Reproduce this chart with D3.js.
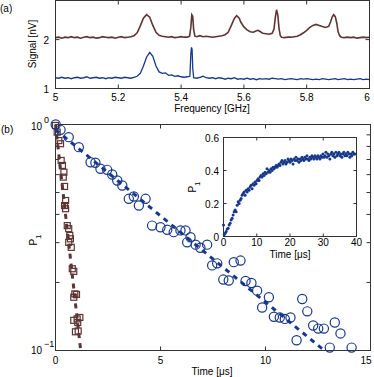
<!DOCTYPE html>
<html>
<head>
<meta charset="utf-8">
<script src="https://cdn.jsdelivr.net/npm/d3@7"></script>
<style>
body{margin:0;background:#fff;}
svg{display:block;font-family:"Liberation Sans",Arial,sans-serif;font-size:10px;}
</style>
</head>
<body>
<svg id="chart" width="374" height="377"></svg>
<script>
// ---- data (a): spectra, [frequency GHz, signal nV]
var brownTrace = [
 [5.00,2.04],[5.01,2.05],[5.02,2.03],[5.03,2.05],[5.04,2.04],[5.05,2.06],[5.06,2.04],[5.07,2.05],[5.08,2.03],[5.09,2.05],
 [5.10,2.06],[5.11,2.04],[5.12,2.05],[5.13,2.03],[5.14,2.04],[5.15,2.06],[5.16,2.05],[5.17,2.04],[5.18,2.05],[5.19,2.03],
 [5.20,2.05],[5.21,2.06],[5.22,2.04],[5.23,2.05],[5.24,2.06],[5.25,2.08],[5.26,2.14],[5.27,2.28],[5.28,2.44],[5.29,2.51],
 [5.30,2.46],[5.31,2.29],[5.32,2.15],[5.33,2.09],[5.34,2.07],[5.35,2.06],[5.36,2.05],[5.37,2.06],[5.38,2.04],[5.39,2.05],
 [5.40,2.06],[5.41,2.05],[5.42,2.05],[5.427,2.07],[5.431,2.25],[5.434,2.51],[5.437,2.48],[5.440,2.20],[5.444,2.07],[5.45,2.06],
 [5.46,2.08],[5.47,2.06],[5.48,2.07],[5.49,2.06],[5.50,2.05],[5.51,2.06],[5.52,2.07],[5.53,2.08],[5.54,2.10],[5.55,2.15],
 [5.56,2.29],[5.57,2.44],[5.577,2.49],[5.585,2.44],[5.59,2.36],[5.60,2.26],[5.61,2.20],[5.62,2.16],[5.63,2.15],[5.64,2.18],
 [5.645,2.19],[5.65,2.17],[5.66,2.13],[5.67,2.12],[5.68,2.11],[5.69,2.13],[5.696,2.22],[5.700,2.45],[5.704,2.61],[5.708,2.50],
 [5.712,2.22],[5.716,2.08],[5.72,2.05],[5.73,2.04],[5.74,2.05],[5.75,2.05],[5.76,2.06],[5.77,2.07],[5.78,2.10],[5.79,2.14],
 [5.80,2.19],[5.81,2.25],[5.82,2.29],[5.83,2.31],[5.84,2.29],[5.85,2.27],[5.86,2.25],[5.87,2.27],[5.876,2.36],[5.881,2.46],
 [5.886,2.51],[5.891,2.47],[5.896,2.33],[5.90,2.16],[5.905,2.08],[5.91,2.05],[5.92,2.04],[5.93,2.05],[5.94,2.04],[5.95,2.05],
 [5.96,2.03],[5.97,2.04],[5.98,2.05],[5.99,2.04],[6.00,2.05]
];
var blueTrace = [
 [5.00,1.22],[5.01,1.21],[5.02,1.23],[5.03,1.21],[5.04,1.22],[5.05,1.20],[5.06,1.22],[5.07,1.23],[5.08,1.21],[5.09,1.22],
 [5.10,1.24],[5.11,1.21],[5.12,1.22],[5.13,1.23],[5.14,1.21],[5.15,1.22],[5.16,1.20],[5.17,1.22],[5.18,1.21],[5.19,1.23],
 [5.20,1.22],[5.21,1.21],[5.22,1.23],[5.23,1.22],[5.24,1.21],[5.25,1.23],[5.26,1.25],[5.27,1.31],[5.28,1.46],[5.29,1.64],
 [5.30,1.74],[5.31,1.66],[5.32,1.46],[5.33,1.34],[5.34,1.31],[5.35,1.32],[5.36,1.27],[5.37,1.28],[5.38,1.25],[5.39,1.26],
 [5.40,1.24],[5.41,1.23],[5.42,1.24],[5.428,1.25],[5.431,1.70],[5.433,1.84],[5.435,1.80],[5.437,1.42],[5.44,1.22],[5.45,1.21],
 [5.46,1.23],[5.47,1.25],[5.48,1.22],[5.49,1.21],[5.50,1.22],[5.51,1.20],[5.52,1.22],[5.53,1.21],[5.54,1.19],[5.55,1.21],
 [5.56,1.20],[5.57,1.22],[5.58,1.19],[5.59,1.20],[5.60,1.19],[5.61,1.21],[5.62,1.19],[5.63,1.20],[5.64,1.18],[5.65,1.20],
 [5.66,1.19],[5.67,1.20],[5.68,1.19],[5.69,1.21],[5.70,1.20],[5.71,1.19],[5.72,1.20],[5.73,1.18],[5.74,1.19],[5.75,1.20],
 [5.76,1.19],[5.77,1.18],[5.78,1.20],[5.79,1.19],[5.80,1.20],[5.81,1.19],[5.82,1.18],[5.83,1.19],[5.84,1.18],[5.85,1.20],
 [5.86,1.19],[5.87,1.18],[5.88,1.19],[5.89,1.20],[5.90,1.18],[5.91,1.19],[5.92,1.20],[5.93,1.18],[5.94,1.19],[5.95,1.18],
 [5.96,1.19],[5.97,1.20],[5.98,1.18],[5.99,1.19],[6.00,1.18]
];
var freqTicks = [5,5.2,5.4,5.6,5.8,6];
var freqTickLabels = ["5","5.2","5.4","5.6","5.8","6"];
var signalTicks = [1,2];

// ---- data (b): decay, [time us, P1]
var circles = [
 [0.01,1.0],[0.24,0.947],[0.63,0.879],[1.11,0.794],[1.67,0.681],[1.90,0.677],[2.14,0.637],[2.46,0.630],[2.70,0.601],[2.94,0.565],
 [3.18,0.537],[3.49,0.469],[3.73,0.480],[3.97,0.438],[4.29,0.469],[4.60,0.357],[5.00,0.351],[5.32,0.342],[5.63,0.334],[5.95,0.340],
 [6.19,0.340],[6.27,0.301],[6.43,0.317],[6.67,0.294],[6.90,0.285],[7.22,0.294],[7.46,0.238],[7.70,0.243],[8.49,0.246],[8.81,0.250],
 [7.99,0.206],[8.25,0.204],[9.05,0.203],[9.33,0.199],[9.60,0.184],[9.84,0.155],[10.16,0.172],[10.40,0.141],[10.68,0.140],[10.92,0.138],
 [11.19,0.140],[11.48,0.111],[11.75,0.169],[11.99,0.149],[12.27,0.129],[12.51,0.125],[12.78,0.125],[13.06,0.103],[13.30,0.133],[13.57,0.119],
 [14.10,0.103]
];
var squares = [
 [0.0,0.99],[0.08,0.925],[0.16,0.849],[0.24,0.822],[0.27,0.693],[0.33,0.659],[0.40,0.615],[0.37,0.585],[0.43,0.532],[0.48,0.461],
 [0.43,0.438],[0.48,0.424],[0.56,0.357],[0.63,0.346],[0.68,0.323],[0.71,0.312],[0.63,0.301],[0.75,0.286],[0.80,0.230],[0.87,0.224],
 [0.92,0.178],[1.0,0.177],[0.87,0.172],[0.87,0.136],[1.03,0.138],[1.16,0.140],[1.06,0.133],[0.95,0.121],[1.08,0.122]
];
var fitBlue = [[0,0.95],[12.8,0.1]];
var fitBrown = [[0,1.0],[1.2,0.1]];
var timeTicks = [0,5,10,15];
var minorP = [0.2,0.3,0.4,0.5,0.6,0.7,0.8,0.9];

// ---- data (b) inset: relaxation, [time us, P1]
var insetDots = [
 [0.0,0.07],[0.2,0.01],[0.5,0.02],[0.8,0.03],[1.1,0.045],[1.4,0.05],[1.7,0.07],[2.0,0.08],[2.3,0.10],[2.6,0.11],
 [2.9,0.13],[3.2,0.15],[3.5,0.16],[3.8,0.15],[4.1,0.19],[4.4,0.21],[4.7,0.20],[5.0,0.22],[5.3,0.23],[5.6,0.25],
 [5.9,0.26],[6.2,0.27],[6.5,0.25],[6.8,0.28],[7.1,0.27],[7.4,0.29],[7.7,0.28],[8.0,0.30],[8.3,0.31],[8.6,0.29],
 [8.9,0.32],[9.2,0.31],[9.5,0.33],[9.8,0.32],[10.1,0.34],[10.4,0.35],[10.7,0.34],[11.0,0.36],[11.3,0.37],[11.6,0.36],
 [11.9,0.38],[12.2,0.37],[12.5,0.39],[12.8,0.38],[13.1,0.41],[13.4,0.39],[13.7,0.40],[14.0,0.39],[14.3,0.41],[14.6,0.40],
 [14.9,0.42],[15.2,0.41],[15.5,0.42],[15.8,0.43],[16.1,0.42],[16.4,0.43],[16.7,0.44],[17.0,0.43],[17.3,0.45],[17.6,0.46],
 [17.9,0.44],[18.2,0.45],[18.5,0.46],[18.8,0.44],[19.1,0.45],[19.4,0.47],[19.7,0.46],[20.0,0.45],[20.3,0.47],[20.6,0.46],
 [20.9,0.44],[21.2,0.47],[21.5,0.46],[21.8,0.48],[22.1,0.46],[22.4,0.47],[22.7,0.45],[23.0,0.47],[23.3,0.46],[23.6,0.48],
 [23.9,0.47],[24.2,0.46],[24.5,0.48],[24.8,0.47],[25.1,0.49],[25.4,0.47],[25.7,0.46],[26.0,0.48],[26.3,0.47],[26.6,0.49],
 [26.9,0.48],[27.2,0.47],[27.5,0.49],[27.8,0.48],[28.1,0.47],[28.4,0.49],[28.7,0.48],[29.0,0.47],[29.3,0.49],[29.6,0.48],
 [29.9,0.50],[30.2,0.48],[30.5,0.49],[30.8,0.51],[31.1,0.48],[31.4,0.50],[31.7,0.49],[32.0,0.47],[32.3,0.50],[32.6,0.51],
 [32.9,0.49],[33.2,0.50],[33.5,0.48],[33.8,0.51],[34.1,0.49],[34.4,0.50],[34.7,0.51],[35.0,0.49],[35.3,0.50],[35.6,0.48],
 [35.9,0.50],[36.2,0.51],[36.5,0.49],[36.8,0.50],[37.1,0.49],[37.4,0.51],[37.7,0.50],[38.0,0.48],[38.3,0.50],[38.6,0.49],
 [38.9,0.51],[39.2,0.50],[39.5,0.50]
];
var insetXTicks = [0,10,20,30,40];
var insetYTicks = [0,0.2,0.4,0.6];

var brown = "#5e3434", blue = "#17388a", axisCol = "#333";

var svg = d3.select("#chart");

// helper: box with inward ticks
function drawBox(g, x, y, xt, yt, len){
  var x0 = x.range()[0], x1 = x.range()[1], y0 = y.range()[0], y1 = y.range()[1];
  g.append("rect").attr("x",x0).attr("y",y1).attr("width",x1-x0).attr("height",y0-y1)
    .attr("fill","none").attr("stroke",axisCol).attr("stroke-width",1);
  xt.forEach(function(v){
    g.append("line").attr("x1",x(v)).attr("x2",x(v)).attr("y1",y0).attr("y2",y0-len).attr("stroke",axisCol);
    g.append("line").attr("x1",x(v)).attr("x2",x(v)).attr("y1",y1).attr("y2",y1+len).attr("stroke",axisCol);
  });
  yt.forEach(function(v){
    g.append("line").attr("x1",x0).attr("x2",x0+len).attr("y1",y(v)).attr("y2",y(v)).attr("stroke",axisCol);
    g.append("line").attr("x1",x1).attr("x2",x1-len).attr("y1",y(v)).attr("y2",y(v)).attr("stroke",axisCol);
  });
}

// ===== panel (a)
var xa = d3.scaleLinear().domain([5,6]).range([55.5,369.5]);
var ya = d3.scaleLinear().domain([1,2.8]).range([88.5,0.5]);
var ga = svg.append("g");
var lineA = d3.line().x(function(d){return xa(d[0]);}).y(function(d){return ya(d[1]);});
ga.append("path").datum(brownTrace).attr("d",lineA).attr("fill","none").attr("stroke",brown).attr("stroke-width",1.6);
ga.append("path").datum(blueTrace).attr("d",lineA).attr("fill","none").attr("stroke",blue).attr("stroke-width",1.3);
drawBox(ga, xa, ya, freqTicks.slice(1,5), [2], 4);
freqTicks.forEach(function(v,i){
  ga.append("text").attr("x",Math.min(xa(v),367)).attr("y",101).attr("text-anchor","middle").text(freqTickLabels[i]);
});
signalTicks.forEach(function(v){
  ga.append("text").attr("x",49).attr("y",ya(v)+4).attr("text-anchor","end").text(v);
});
ga.append("text").attr("x",212).attr("y",112).attr("text-anchor","middle").text("Frequency [GHz]");
ga.append("text").attr("transform","translate(36,44) rotate(-90)").attr("text-anchor","middle").text("Signal [nV]");
svg.append("text").attr("x",0).attr("y",12).text("(a)");

// ===== panel (b)
var xb = d3.scaleLinear().domain([0,15]).range([55.5,370.5]);
var yb = d3.scaleLog().domain([0.1,1]).range([350.5,124.5]);
var gb = svg.append("g");
drawBox(gb, xb, yb, [5,10], minorP, 4);
var lineB = d3.line().x(function(d){return xb(d[0]);}).y(function(d){return yb(d[1]);});
gb.append("path").datum(fitBrown).attr("d",lineB).attr("fill","none").attr("stroke",brown)
  .attr("stroke-width",3).attr("stroke-dasharray","5,5");
gb.append("path").datum(fitBlue).attr("d",lineB).attr("fill","none").attr("stroke",blue)
  .attr("stroke-width",3).attr("stroke-dasharray","5,5");
gb.selectAll("rect.sq").data(squares).enter().append("rect").attr("class","sq")
  .attr("x",function(d){return xb(d[0])-3;}).attr("y",function(d){return yb(d[1])-3;})
  .attr("width",6).attr("height",6).attr("fill","none").attr("stroke",brown).attr("stroke-width",1.2);
gb.selectAll("circle.c").data(circles).enter().append("circle").attr("class","c")
  .attr("cx",function(d){return xb(d[0]);}).attr("cy",function(d){return yb(d[1]);})
  .attr("r",4.6).attr("fill","none").attr("stroke",blue).attr("stroke-width",1.2);
timeTicks.forEach(function(v){
  gb.append("text").attr("x",Math.min(xb(v),366)).attr("y",364).attr("text-anchor","middle").text(v);
});
gb.append("text").attr("x",212).attr("y",375).attr("text-anchor","middle").text("Time [\u03bcs]");
var t0 = gb.append("text").attr("x",42).attr("y",130).attr("text-anchor","end");
t0.append("tspan").text("10");
gb.append("text").attr("x",44).attr("y",123).attr("font-size",9).text("0");
gb.append("text").attr("x",42).attr("y",354).attr("text-anchor","end").text("10");
gb.append("text").attr("x",44).attr("y",347).attr("font-size",9).text("\u22121");
var p1 = gb.append("text").attr("transform","translate(37,240) rotate(-90)").attr("text-anchor","middle");
p1.append("tspan").text("P");
p1.append("tspan").attr("dy",4).attr("font-size",8).text("1");
svg.append("text").attr("x",1).attr("y",133).text("(b)");

// ===== inset
var xi = d3.scaleLinear().domain([0,40]).range([223.5,356.5]);
var yi = d3.scaleLinear().domain([0,0.6]).range([236.5,137.5]);
var gi = svg.append("g");
gi.append("rect").attr("x",223.5).attr("y",137.5).attr("width",133).attr("height",99).attr("fill","#fff");
drawBox(gi, xi, yi, [10,20,30], [0.2,0.4], 3);
gi.selectAll("circle").data(insetDots).enter().append("circle")
  .attr("cx",function(d){return xi(d[0]);}).attr("cy",function(d){return yi(d[1]);})
  .attr("r",1.5).attr("fill",blue);
insetXTicks.forEach(function(v){
  gi.append("text").attr("x",xi(v)).attr("y",246).attr("text-anchor","middle").text(v);
});
insetYTicks.forEach(function(v){
  gi.append("text").attr("x",219).attr("y",yi(v)+4).attr("text-anchor","end").text(v===0?"0":v.toFixed(1));
});
gi.append("text").attr("x",290).attr("y",258).attr("text-anchor","middle").text("Time [\u03bcs]");
var p2 = gi.append("text").attr("transform","translate(196,187) rotate(-90)").attr("text-anchor","middle");
p2.append("tspan").text("P");
p2.append("tspan").attr("dy",4).attr("font-size",8).text("1");
</script>
</body>
</html>
